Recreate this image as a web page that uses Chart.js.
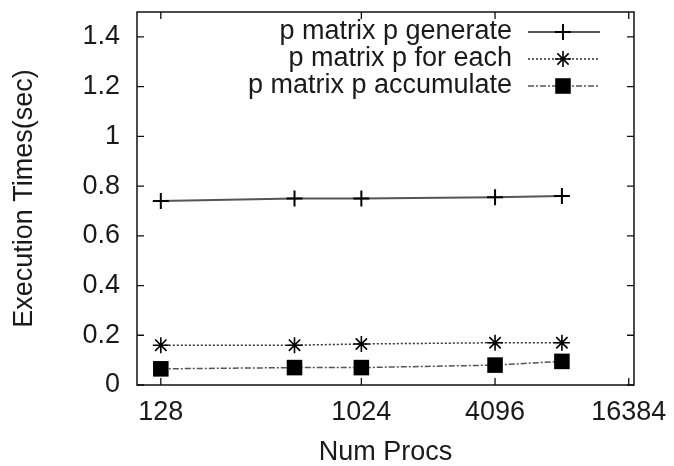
<!DOCTYPE html>
<html>
<head>
<meta charset="utf-8">
<script src="https://cdn.jsdelivr.net/npm/chart.js@4/dist/chart.umd.min.js"></script>
<style>
    html, body { margin: 0; padding: 0; background: #fff; }
</style>
</head>
<body>
<canvas id="timesChart" width="674" height="466"></canvas>
<script>
// Données
const procs = [128, 512, 1024, 4096, 8192];
const generateTimes = [0.74, 0.75, 0.75, 0.755, 0.76];
const forEachTimes = [0.16, 0.16, 0.165, 0.17, 0.17];
const accumulateTimes = [0.065, 0.07, 0.07, 0.08, 0.095];
const seriesNames = ['p matrix p generate', 'p matrix p for each', 'p matrix p accumulate'];
const xTicks = [128, 1024, 4096, 16384];
const yTicks = [0, 0.2, 0.4, 0.6, 0.8, 1, 1.2, 1.4];

const FONT = '"Liberation Sans", Arial, Helvetica, sans-serif';
const FONT_SIZE = 27;
const INK = '#1a1a1a';

function points(values) {
    return procs.map((p, i) => ({ x: p, y: values[i] }));
}

// Cadre gnuplot + petites graduations intérieures
const framePlugin = {
    id: 'frame',
    afterDraw(chart) {
        const { ctx, chartArea: a, scales: { x, y } } = chart;
        ctx.save();
        ctx.strokeStyle = '#111';
        ctx.lineWidth = 1.5;
        ctx.strokeRect(a.left, a.top, a.right - a.left, a.bottom - a.top);
        ctx.lineWidth = 1.3;
        ctx.beginPath();
        yTicks.forEach(v => {
            const py = y.getPixelForValue(v);
            ctx.moveTo(a.left, py); ctx.lineTo(a.left + 7, py);
            ctx.moveTo(a.right, py); ctx.lineTo(a.right - 7, py);
        });
        xTicks.forEach(v => {
            const px = x.getPixelForValue(v);
            ctx.moveTo(px, a.bottom); ctx.lineTo(px, a.bottom - 7);
            ctx.moveTo(px, a.top); ctx.lineTo(px, a.top + 7);
        });
        ctx.stroke();
        ctx.restore();
    }
};

// Légende façon gnuplot : texte à gauche, trait + marqueur à droite
const keyPlugin = {
    id: 'key',
    afterDraw(chart) {
        const { ctx, chartArea: a } = chart;
        ctx.save();
        chart.data.datasets.forEach((ds, i) => {
            const rowY = a.top + 20 + i * 27;
            ctx.font = FONT_SIZE + 'px ' + FONT;
            ctx.fillStyle = INK;
            ctx.textAlign = 'right';
            ctx.textBaseline = 'middle';
            ctx.fillText(ds.label, a.right - 122, rowY);

            ctx.strokeStyle = ds.borderColor;
            ctx.lineWidth = ds.borderWidth;
            ctx.setLineDash(ds.borderDash || []);
            ctx.beginPath();
            ctx.moveTo(a.right - 106, rowY);
            ctx.lineTo(a.right - 34, rowY);
            ctx.stroke();
            ctx.setLineDash([]);

            ctx.strokeStyle = ds.pointBorderColor;
            ctx.fillStyle = ds.pointBackgroundColor;
            ctx.lineWidth = ds.pointBorderWidth;
            Chart.helpers.drawPoint(ctx, {
                pointStyle: ds.pointStyle,
                radius: ds.pointRadius,
                borderWidth: ds.pointBorderWidth,
                rotation: 0
            }, a.right - 71, rowY);
        });
        ctx.restore();
    }
};

new Chart(document.getElementById('timesChart').getContext('2d'), {
    type: 'line',
    data: {
        datasets: [
            {
                label: seriesNames[0],
                data: points(generateTimes),
                borderColor: '#555',
                borderWidth: 1.8,
                pointStyle: 'cross',
                pointRadius: 8,
                pointBorderWidth: 2,
                pointBorderColor: '#000',
                pointBackgroundColor: '#000'
            },
            {
                label: seriesNames[1],
                data: points(forEachTimes),
                borderColor: '#333',
                borderWidth: 1.5,
                borderDash: [2, 2],
                pointStyle: 'star',
                pointRadius: 8,
                pointBorderWidth: 1.6,
                pointBorderColor: '#000',
                pointBackgroundColor: '#000'
            },
            {
                label: seriesNames[2],
                data: points(accumulateTimes),
                borderColor: '#555',
                borderWidth: 1.5,
                borderDash: [6, 2, 2, 2],
                pointStyle: 'rect',
                pointRadius: 11,
                pointBorderWidth: 0,
                pointBorderColor: '#000',
                pointBackgroundColor: '#000'
            }
        ]
    },
    options: {
        responsive: false,
        animation: false,
        devicePixelRatio: 1,
        layout: { padding: { top: 12, right: 40, left: 0, bottom: 0 } },
        plugins: {
            legend: { display: false },
            tooltip: { enabled: false }
        },
        elements: { line: { tension: 0 } },
        scales: {
            x: {
                type: 'logarithmic',
                min: 100,
                max: 17300,
                afterBuildTicks: s => { s.ticks = xTicks.map(v => ({ value: v })); },
                afterFit: s => { s.height = 81; s.paddingLeft = 0; s.paddingRight = 0; },
                grid: { display: false, drawTicks: false },
                border: { display: false },
                ticks: {
                    autoSkip: false,
                    maxRotation: 0,
                    padding: 11,
                    color: INK,
                    font: { family: FONT, size: FONT_SIZE },
                    callback: v => String(v)
                },
                title: {
                    display: true,
                    text: 'Num Procs',
                    color: INK,
                    font: { family: FONT, size: FONT_SIZE, lineHeight: 1 },
                    padding: { top: 0, bottom: 0 }
                }
            },
            y: {
                min: 0,
                max: 1.5,
                afterBuildTicks: s => { s.ticks = yTicks.map(v => ({ value: v })); },
                afterFit: s => { s.width = 137; s.paddingTop = 0; s.paddingBottom = 0; },
                grid: { display: false, drawTicks: false },
                border: { display: false },
                ticks: {
                    padding: 17,
                    color: INK,
                    font: { family: FONT, size: FONT_SIZE },
                    callback: v => String(v)
                },
                title: {
                    display: true,
                    text: 'Execution Times(sec)',
                    color: INK,
                    font: { family: FONT, size: FONT_SIZE, lineHeight: 1 },
                    padding: { top: 11, bottom: 0 }
                }
            }
        }
    },
    plugins: [framePlugin, keyPlugin]
});
</script>
</body>
</html>
